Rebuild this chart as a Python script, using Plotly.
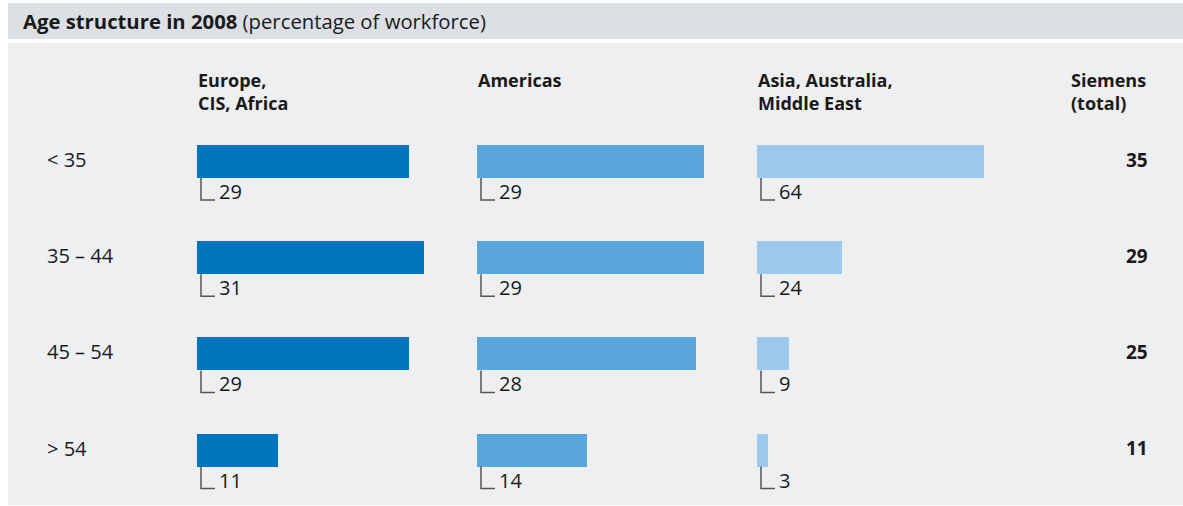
import plotly.graph_objects as go

# Age groups (rows) and regional shares of the workforce, in percent
age_groups = ["< 35", "35 – 44", "45 – 54", "> 54"]
europe_cis_africa = [29, 31, 29, 11]
americas = [29, 29, 28, 14]
asia_australia_me = [64, 24, 9, 3]
siemens_total = [35, 29, 25, 11]

region_names = [["Europe,", "CIS, Africa"], ["Americas"], ["Asia, Australia,", "Middle East"]]
total_name = ["Siemens", "(total)"]
region_values = [europe_cis_africa, americas, asia_australia_me]
region_colors = ["#0075bd", "#5aa5db", "#9ccaec"]

W, H = 1183, 506
FONT = "Open Sans"
TEXT = "#1a1a1a"

# column geometry (pixels): each region column is scaled to its own maximum
col_left = [197, 477, 757]
col_width = 227
row_top_px = 161.5   # centre of the first row
row_step_px = 96.2   # distance between rows
bar_px = 33

fig = go.Figure()

axis_names = ["x", "x2", "x3"]
for k, (vals, color) in enumerate(zip(region_values, region_colors)):
    fig.add_trace(go.Bar(
        y=age_groups, x=vals, orientation="h",
        marker=dict(color=color, line=dict(width=0)),
        width=bar_px / row_step_px,
        xaxis=axis_names[k], yaxis="y",
        hoverinfo="x+y", showlegend=False,
    ))

layout_axes = {}
for k, vals in enumerate(region_values):
    key = "xaxis" if k == 0 else f"xaxis{k + 1}"
    layout_axes[key] = dict(
        domain=[col_left[k] / W, (col_left[k] + col_width) / W],
        range=[0, max(vals)],
        visible=False, fixedrange=True,
        anchor="y",
    )

# vertical range so row centres land on the chosen pixel rows
y_top = -row_top_px / row_step_px
y_bot = (H - row_top_px) / row_step_px

shapes = [
    # title band
    dict(type="rect", xref="paper", yref="paper", x0=8 / W, x1=1, y0=1 - 39 / H, y1=1 - 3 / H,
         fillcolor="#dce0e4", line=dict(width=0), layer="below"),
    # body panel
    dict(type="rect", xref="paper", yref="paper", x0=8 / W, x1=1, y0=1 - 505 / H, y1=1 - 43 / H,
         fillcolor="#eeeff1", line=dict(width=0), layer="below"),
]

annotations = [
    dict(text="<b>Age structure in 2008</b> (percentage of workforce)",
         xref="paper", yref="paper", x=21 / W, y=1 - 21 / H, xanchor="left", yanchor="middle",
         showarrow=False, font=dict(family=FONT, size=20.3, color=TEXT)),
]


def header(lines, x_px):
    # column heading, top line centred near y = 80 px
    n = len(lines)
    centre = 80 + 23.4 * (n - 1) / 2
    annotations.append(dict(
        text="<b>" + "<br>".join(lines) + "</b>", xref="paper", yref="paper",
        x=x_px / W, y=1 - centre / H, xanchor="left", yanchor="middle", align="left",
        showarrow=False, font=dict(family=FONT, size=18, color=TEXT)))


for k, name in enumerate(region_names):
    header(name, col_left[k] - 1)
header(total_name, 1069)

for i, grp in enumerate(age_groups):
    # row label
    annotations.append(dict(
        text=grp, xref="paper", yref="y", x=45 / W, y=i, yshift=2,
        xanchor="left", yanchor="middle", showarrow=False,
        font=dict(family=FONT, size=20, color=TEXT)))
    # company total
    annotations.append(dict(
        text=f"<b>{siemens_total[i]}</b>", xref="paper", yref="y", x=1150 / W, y=i, yshift=2,
        xanchor="right", yanchor="middle", showarrow=False,
        font=dict(family=FONT, size=19, color=TEXT)))
    for k, vals in enumerate(region_values):
        # value label hanging under the bar
        annotations.append(dict(
            text=str(vals[i]), xref=axis_names[k], yref="y", x=0, y=i,
            xshift=20, yshift=-30, xanchor="left", yanchor="middle", showarrow=False,
            font=dict(family=FONT, size=20, color=TEXT)))
        # L-shaped leader from the bar to its value
        half = bar_px / 2
        shapes.append(dict(
            type="path", xref=axis_names[k], yref="y",
            xsizemode="pixel", ysizemode="pixel", xanchor=0, yanchor=i,
            path=f"M4,{-half} L4,{-half - 22} L18,{-half - 22}",
            line=dict(color="#555555", width=1.5), fillcolor="rgba(0,0,0,0)",
        ))

fig.update_layout(
    width=W, height=H,
    margin=dict(l=0, r=0, t=0, b=0),
    paper_bgcolor="white", plot_bgcolor="rgba(0,0,0,0)",
    yaxis=dict(domain=[0, 1], range=[y_bot, y_top], visible=False, fixedrange=True,
               type="category", categoryarray=age_groups),
    shapes=shapes, annotations=annotations,
    bargap=0, showlegend=False,
    **layout_axes,
)

fig.write_html("out.html", config={"displayModeBar": False})
